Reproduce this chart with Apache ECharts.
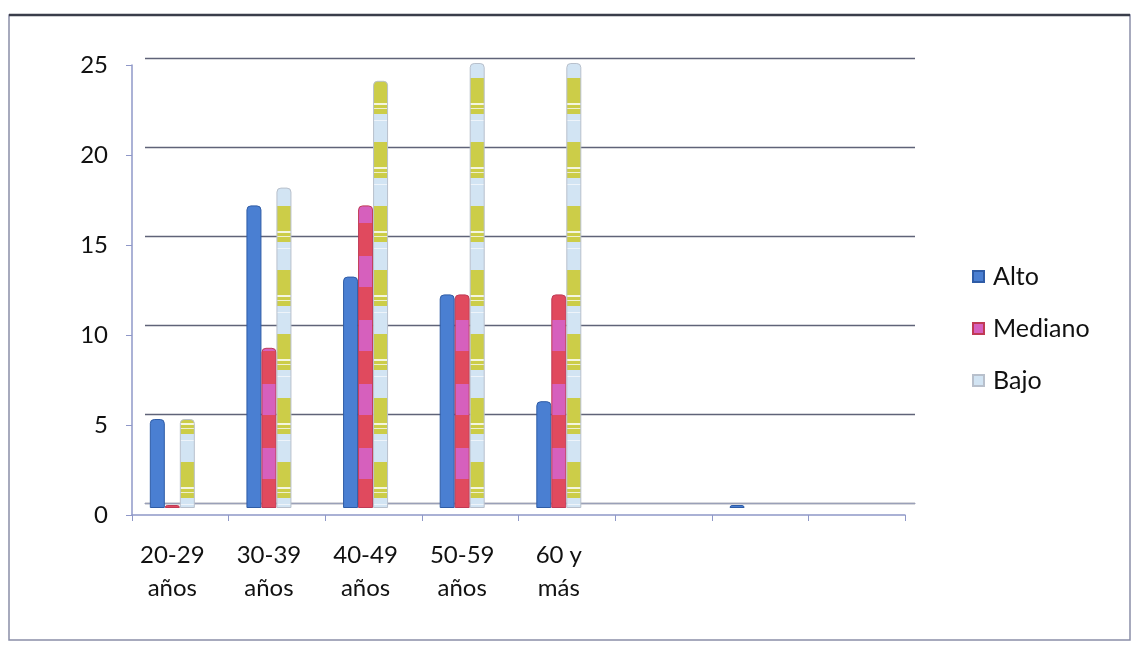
<!DOCTYPE html>
<html>
<head>
<meta charset="utf-8">
<script src="https://cdn.jsdelivr.net/npm/echarts@6/dist/echarts.min.js"></script>
<style>
html,body{margin:0;padding:0;background:#fff;}
#chart{width:1138px;height:653px;}
</style>
</head>
<body>
<div id="chart"></div>
<script>
const categories = ['20-29\naños', '30-39\naños', '40-49\naños', '50-59\naños', '60 y\nmás', '', '', ''];
const seriesNames = ['Alto', 'Mediano', 'Bajo'];
const alto = [5, 17, 13, 12, 6, null, 0, null];
const mediano = [0, 9, 17, 12, 12, null, null, null];
const bajo = [5, 18, 24, 25, 25, null, null, null];
const yTicks = [0, 5, 10, 15, 20, 25];

function makePattern(bands) {
  const c = document.createElement('canvas');
  c.width = 16; c.height = 64;
  const ctx = c.getContext('2d');
  bands.forEach(b => { ctx.fillStyle = b[2]; ctx.fillRect(0, b[0], 16, b[1] - b[0]); });
  return { image: c, repeat: 'repeat' };
}
const bajoPattern = makePattern([
  [0, 64, '#d2e4f3'],
  [14, 50, '#cccd48'],
  [39, 41, '#f4f6e0'],
  [44, 45, '#eef0d0'],
  [56, 57, '#eef4fa']
]);
const medianoPattern = makePattern([
  [0, 64, '#e04a5e'],
  [0, 31, '#d660bd']
]);

const chart = echarts.init(document.getElementById('chart'), null, { renderer: 'canvas' });
const font = 'Lato, "Noto Sans", sans-serif';
const axisCol = '#8f98c8';
const option = {
  animation: false,
  backgroundColor: '#ffffff',
  grid: [
    { left: 132, right: 233, top: 65, bottom: 138 },   // front axes
    { left: 145, right: 223, top: 58, bottom: 150 },   // back wall gridlines
    { left: 124, right: 241, top: 63, bottom: 145 }    // bars
  ],
  legend: {
    orient: 'vertical',
    left: 972, top: 264, padding: 0,
    itemWidth: 11, itemHeight: 11, itemGap: 27,
    icon: 'rect',
    data: seriesNames,
    textStyle: { fontFamily: font, fontSize: 25, color: '#111', lineHeight: 25, padding: [0, 0, 0, 4] }
  },
  xAxis: [
    { gridIndex: 0, type: 'category', data: categories,
      axisLine: { lineStyle: { color: axisCol, width: 1.5 } },
      axisTick: { show: true, length: 6, lineStyle: { color: axisCol } },
      axisLabel: { show: false }, splitLine: { show: false } },
    { gridIndex: 1, type: 'category', data: categories,
      axisLine: { lineStyle: { color: '#9aa0b8', width: 1.2 } },
      axisTick: { show: false }, axisLabel: { show: false }, splitLine: { show: false } },
    { gridIndex: 2, type: 'category', data: categories,
      axisLine: { show: false }, axisTick: { show: false }, splitLine: { show: false },
      axisLabel: { fontFamily: font, fontSize: 24, color: '#111', lineHeight: 33, margin: 31, interval: 0 } }
  ],
  yAxis: [
    { gridIndex: 0, type: 'value', min: 0, max: 25, interval: 5,
      axisLine: { show: true, lineStyle: { color: axisCol, width: 1.5 } },
      axisTick: { show: true, length: 6, lineStyle: { color: axisCol } },
      axisLabel: { fontFamily: font, fontSize: 24, color: '#111', margin: 24,
        formatter: v => yTicks.includes(v) ? String(v) : '' },
      splitLine: { show: false } },
    { gridIndex: 1, type: 'value', min: 0, max: 25, interval: 5,
      axisLine: { show: false }, axisTick: { show: false }, axisLabel: { show: false },
      splitLine: { lineStyle: { color: '#5f6378', width: 1.4 } } },
    { gridIndex: 2, type: 'value', min: 0, max: 25, interval: 5,
      axisLine: { show: false }, axisTick: { show: false }, axisLabel: { show: false },
      splitLine: { show: false } }
  ],
  series: [
    { name: 'Alto', type: 'bar', xAxisIndex: 2, yAxisIndex: 2, data: alto, barWidth: 15, barGap: '0%', barMinHeight: 3,
      itemStyle: { color: '#4a7fd2', borderColor: '#2f5ca6', borderWidth: 1, borderRadius: [4, 4, 0, 0] } },
    { name: 'Mediano', type: 'bar', xAxisIndex: 2, yAxisIndex: 2, data: mediano, barWidth: 15, barGap: '0%', barMinHeight: 3,
      itemStyle: { color: medianoPattern, borderColor: '#c03a55', borderWidth: 1, borderRadius: [4, 4, 0, 0] } },
    { name: 'Bajo', type: 'bar', xAxisIndex: 2, yAxisIndex: 2, data: bajo, barWidth: 15, barGap: '0%', barMinHeight: 3,
      itemStyle: { color: bajoPattern, borderColor: '#b8c0cc', borderWidth: 1, borderRadius: [4, 4, 0, 0] } }
  ],
  graphic: [
    { type: 'rect', shape: { x: 9, y: 15, width: 1121, height: 625 }, silent: true, z: -1,
      style: { fill: 'none', stroke: '#8a8fa8', lineWidth: 1.5 } },
    { type: 'line', shape: { x1: 9, y1: 15, x2: 1130, y2: 15 }, silent: true,
      style: { stroke: '#3a3d4a', lineWidth: 2.5 } }
  ]
};
chart.setOption(option);
</script>
</body>
</html>
